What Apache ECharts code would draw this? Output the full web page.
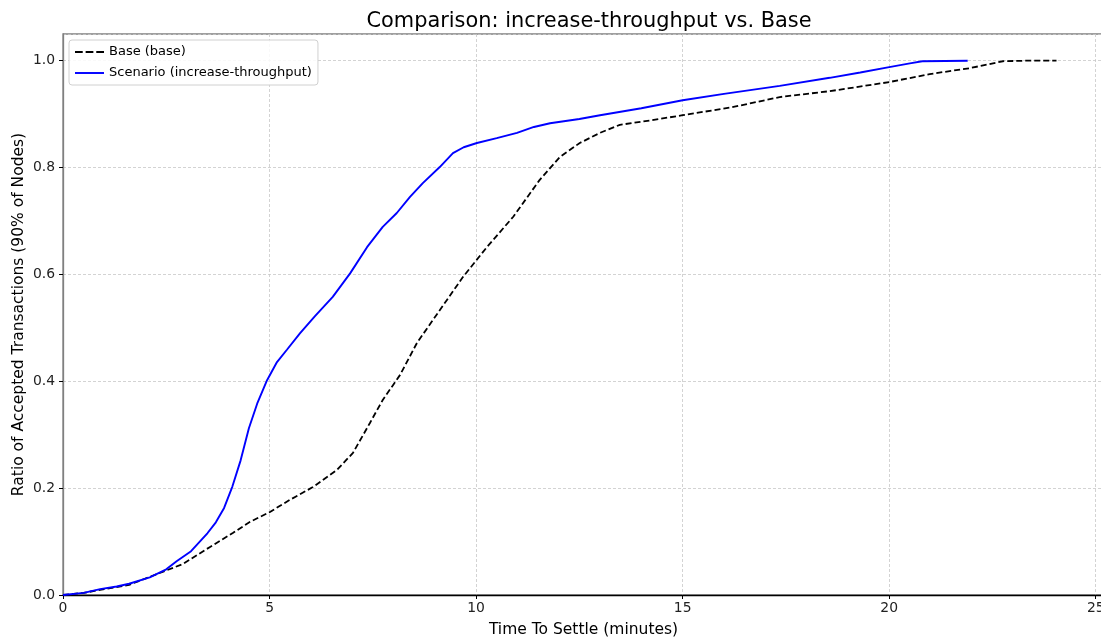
<!DOCTYPE html>
<html>
<head>
<meta charset="utf-8">
<script src="https://cdn.jsdelivr.net/npm/echarts@6/dist/echarts.min.js"></script>
<style>
html,body{margin:0;padding:0;background:#fff;}
#chart{width:1101px;height:638px;}
</style>
</head>
<body>
<div id="chart"></div>
<script>
const titleText = 'Comparison: increase-throughput vs. Base';
const xAxisName = 'Time To Settle (minutes)';
const yAxisName = 'Ratio of Accepted Transactions (90% of Nodes)';
const baseName = 'Base (base)';
const scenarioName = 'Scenario (increase-throughput)';

// [minutes, ratio]
const baseData = [
  [0,0],[0.5,0.004],[1,0.011],[1.6,0.019],[2.1,0.034],[2.5,0.046],[2.9,0.058],
  [3.56,0.09],[4.11,0.116],[4.53,0.137],[5.0,0.155],[5.49,0.178],[6.05,0.202],
  [6.63,0.234],[7.02,0.266],[7.43,0.322],[7.74,0.365],[8.16,0.412],[8.57,0.472],
  [9.12,0.533],[9.68,0.595],[10.26,0.651],[10.9,0.708],[11.54,0.777],[12.03,0.82],
  [12.51,0.846],[13.0,0.865],[13.48,0.88],[14.2,0.888],[15.0,0.898],[16.2,0.913],
  [17.35,0.932],[18.56,0.943],[20.0,0.96],[20.98,0.975],[21.95,0.986],[22.75,0.999],
  [23.3,1.0],[24.05,1.0]
];
const scenarioData = [
  [0,0],[0.5,0.004],[0.9,0.011],[1.3,0.016],[1.6,0.021],[2.1,0.033],[2.5,0.048],
  [2.75,0.063],[3.1,0.082],[3.5,0.116],[3.7,0.136],[3.9,0.163],[4.1,0.203],
  [4.3,0.252],[4.5,0.312],[4.7,0.358],[4.94,0.402],[5.18,0.436],[5.42,0.459],[5.74,0.49],
  [6.1,0.522],[6.53,0.558],[6.95,0.602],[7.36,0.651],[7.74,0.689],[8.08,0.715],
  [8.4,0.745],[8.71,0.771],[9.12,0.801],[9.44,0.827],[9.7,0.838],[10.02,0.846],
  [10.5,0.855],[10.99,0.865],[11.4,0.876],[11.79,0.883],[12.5,0.891],[13.0,0.898],
  [14.0,0.911],[15.0,0.926],[16.0,0.938],[17.35,0.953],[18.56,0.968],[19.3,0.978],
  [20.0,0.988],[20.5,0.995],[20.8,0.999],[21.9,1.0]
];

const font = 'DejaVu Sans';
const dashIcon = 'path://M0,0h8v2h-8z M11,0h8v2h-8z M22,0h8v2h-8z';
const solidIcon = 'path://M0,0h30v2h-30z';
const chart = echarts.init(document.getElementById('chart'), null, {renderer:'canvas'});
chart.setOption({
  animation: false,
  backgroundColor: '#fff',
  textStyle: {fontFamily: font},
  title: {
    text: titleText, left: 584, top: 6, textAlign: 'center',
    textStyle: {fontFamily: font, fontSize: 20.9, fontWeight: 'normal', color: '#000'}
  },
  grid: {
    left: 63, top: 34, width: 1041, height: 561,
    containLabel: false, outerBoundsMode: 'none',
    show: true, borderColor: '#808080', borderWidth: 1.3, backgroundColor: 'transparent'
  },
  legend: {
    orient: 'vertical', left: 69, top: 40,
    backgroundColor: 'rgba(255,255,255,0.85)', borderColor: '#d0d0d0', borderWidth: 1, borderRadius: 3,
    padding: [4, 6, 4, 6], itemGap: 5, itemWidth: 29, itemHeight: 2,
    textStyle: {fontFamily: font, fontSize: 13, color: '#000', lineHeight: 16},
    data: [
      {name: baseName, icon: dashIcon, itemStyle: {color: '#000'}},
      {name: scenarioName, icon: solidIcon, itemStyle: {color: '#0000ff'}}
    ]
  },
  xAxis: {
    type: 'value', min: 0, max: 25.2, interval: 5,
    name: xAxisName, nameLocation: 'middle', nameGap: 27, nameMoveOverlap: false,
    nameTextStyle: {fontFamily: font, fontSize: 15.5, color: '#000'},
    axisLine: {show: true, onZero: false, lineStyle: {color: '#000', width: 1.3}},
    axisTick: {show: true, length: 4, lineStyle: {color: '#000'}},
    axisLabel: {fontFamily: font, fontSize: 13.9, color: '#222', margin: 6, showMaxLabel: false},
    splitLine: {show: true, lineStyle: {color: '#c8c8c8', width: 0.8, type: [3, 2]}}
  },
  yAxis: {
    type: 'value', min: 0, max: 1.05, interval: 0.2,
    name: yAxisName, nameLocation: 'middle', nameGap: 36, nameRotate: 90, nameMoveOverlap: false,
    nameTextStyle: {fontFamily: font, fontSize: 15.5, color: '#000'},
    axisLine: {show: true, onZero: false, lineStyle: {color: '#808080', width: 1.3}},
    axisTick: {show: true, length: 4, lineStyle: {color: '#000'}},
    axisLabel: {fontFamily: font, fontSize: 13.9, color: '#222', margin: 8, showMaxLabel: false,
      formatter: v => v.toFixed(1)},
    splitLine: {show: true, lineStyle: {color: '#c8c8c8', width: 0.8, type: [3, 2]}}
  },
  series: [
    {
      name: baseName, type: 'line', data: baseData, showSymbol: false, symbol: 'none',
      lineStyle: {color: '#000', width: 1.8, type: [6, 3]}, itemStyle: {color: '#000'}, z: 3
    },
    {
      name: scenarioName, type: 'line', data: scenarioData, showSymbol: false, symbol: 'none',
      lineStyle: {color: '#0000ff', width: 1.9}, itemStyle: {color: '#0000ff'}, z: 4
    }
  ]
});
</script>
</body>
</html>
